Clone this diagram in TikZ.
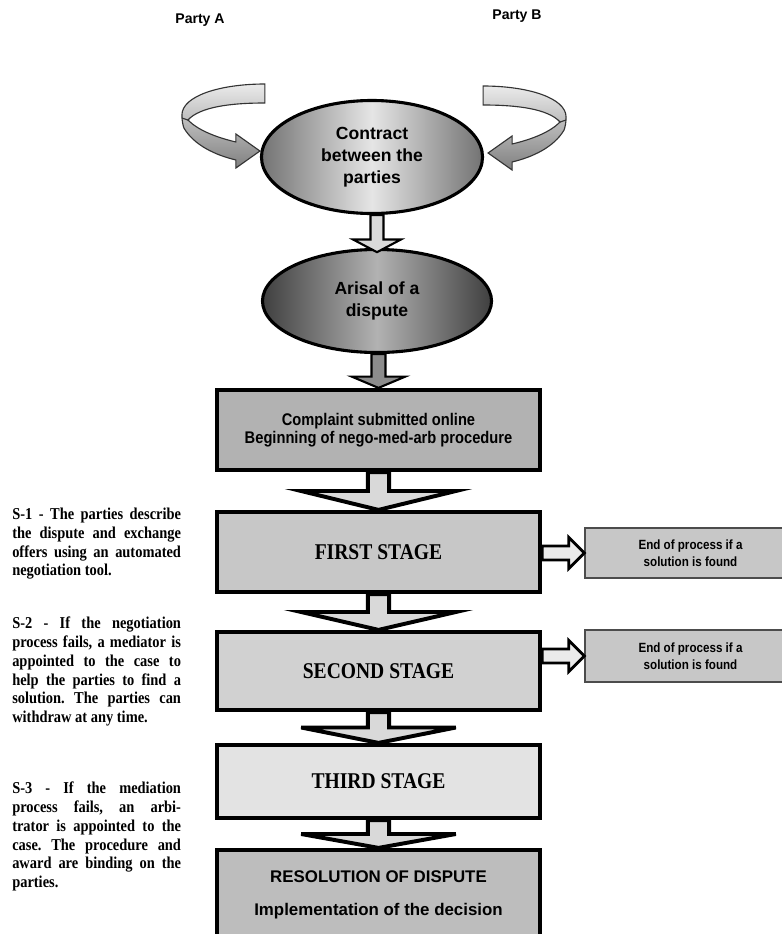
\documentclass[tikz,border=0pt]{standalone}
\usepackage{fontspec}
\setmainfont{Liberation Serif}
\newfontfamily\arialfont{Liberation Sans}
\newfontfamily\narrowsans{Liberation Sans}[FakeStretch=0.87]
\newfontfamily\narrowserif{Liberation Serif}[FakeStretch=0.87]
\usetikzlibrary{calc,shapes.geometric}

\tikzset{
  oval/.style = {ellipse, draw, line width=2.2pt, align=center, inner sep=0pt,
    font=\arialfont\bfseries\fontsize{12.5}{15.5}\selectfont},
  stagebox/.style = {rectangle, draw, line width=3pt, minimum width=8.075cm,
    align=center, inner sep=0pt},
  stagetext/.style = {font=\narrowserif\bfseries\fontsize{16}{18}\selectfont},
  endbox/.style = {rectangle, draw=black!70, line width=1pt, fill=black!22,
    minimum width=5.275cm, align=center,
    font=\narrowsans\bfseries\fontsize{9.5}{11.9}\selectfont},
  stepnote/.style = {anchor=north west, inner sep=0pt, text width=120pt,
    align=justify, font=\narrowserif\bfseries\fontsize{11.8}{13.3}\selectfont},
  partylabel/.style = {font=\arialfont\bfseries\fontsize{10}{12}\selectfont},
  blockarrow/.style = {draw, line width=2.8pt, fill=black!15, line join=miter},
  smallarrow/.style = {draw, line width=1.5pt, line join=miter},
  sidearrow/.style = {draw, line width=2pt, fill=black!8, line join=miter},
  ribbonline/.style = {draw=black!80, line width=0.8pt,
    top color=black!8, bottom color=black!50},
  ribbon/.pic = {
    \path[ribbonline] (5,-67) .. controls (-40,-67) and (-78,-55) .. (-78,-36)
      .. controls (-78,-30) and (-77,-26) .. (-76,-23)
      .. controls (-66,-6) and (-45,4) .. (-24,9) -- (-24,17) -- (0,0)
      -- (-24,-17) -- (-24,-9)
      .. controls (-45,-14) and (-62,-21) .. (-72,-31)
      .. controls (-60,-44) and (-30,-48) .. (5,-48) -- cycle;
    \draw[black!80, line width=0.8pt] (-72,-31) -- (-78,-33);
  }
}

\hyphenpenalty=10000
\frenchspacing

\begin{document}
\begin{tikzpicture}[x=0.025cm, y=-0.025cm]
  \useasboundingbox (0,0) rectangle (782,934);

  % parties and contract
  \node[partylabel] (partyA) at (200,20) {Party A};
  \node[partylabel] (partyB) at (517,16) {Party B};

  \node[oval, minimum width=5.525cm, minimum height=2.825cm,
    left color=black!55, right color=black!55, middle color=black!10]
    (contract) at (372,157) {Contract\\between the\\parties};
  \node[oval, minimum width=5.725cm, minimum height=2.575cm,
    left color=black!75, right color=black!75, middle color=black!30]
    (arisal) at (377,301) {Arisal of a\\dispute};

  \pic at ($(contract.west)+(0,-6)$) {ribbon};
  \pic[xscale=-1] at ($(contract.east)+(4,-4)$) {ribbon};

  % procedure
  \node[stagebox, fill=black!30, minimum height=2cm,
    font=\narrowsans\bfseries\fontsize{12}{13}\selectfont]
    (complaint) at (378.5,430) {Complaint submitted online\\Beginning of nego-med-arb procedure};
  \node[stagebox, stagetext, fill=black!22, minimum height=2cm]
    (first) at (378.5,552) {FIRST STAGE};
  \node[stagebox, stagetext, fill=black!18, minimum height=1.95cm]
    (second) at (378.5,671) {SECOND STAGE};
  \node[stagebox, stagetext, fill=black!11, minimum height=1.825cm]
    (third) at (378.5,781.5) {THIRD STAGE};
  \node[stagebox, fill=black!26, minimum height=2.25cm,
    font=\arialfont\bfseries\fontsize{12}{14.4}\selectfont]
    (resolution) at (378.5,895) {RESOLUTION OF DISPUTE\\[9pt]Implementation of the decision};

  \node[endbox, minimum height=1.25cm] (end1) at (690.5,553) {End of process if a\\solution is found};
  \node[endbox, minimum height=1.3cm] (end2) at (690.5,656) {End of process if a\\solution is found};

  % stage notes
  \node[stepnote] (note1) at (12,508) {S-1 - The parties describe\linebreak
    the dispute and exchange\linebreak offers using an automated\linebreak
    negotiation tool.};
  \node[stepnote] (note2) at (12,617) {S-2 - If the negotiation\linebreak
    process fails, a mediator is\linebreak appointed to the case to\linebreak
    help the parties to find a\linebreak solution. The parties can\linebreak
    withdraw at any time.};
  \node[stepnote] (note3) at (12,782) {S-3 - If the mediation\linebreak
    process fails, an arbi-\linebreak trator is appointed to the\linebreak
    case. The procedure and\linebreak award are binding on the\linebreak
    parties.};

  % arrows
  \draw[smallarrow, fill=black!15] let \p1=(contract.south), \p2=(arisal.north) in
    (\x2-4.6pt,\y1) -- (\x2-4.6pt,\y2+6pt) -- (\x2-17pt,\y2+6pt) -- (\x2,\y2-3pt)
    -- (\x2+17pt,\y2+6pt) -- (\x2+4.6pt,\y2+6pt) -- (\x2+4.6pt,\y1) -- cycle;
  \draw[smallarrow, fill=black!45] let \p1=(arisal.south), \p2=(complaint.north) in
    (\x2-5pt,\y1) -- (\x2-5pt,\y2+8pt) -- (\x2-19pt,\y2+8pt) -- (\x2,\y2)
    -- (\x2+19pt,\y2+8pt) -- (\x2+5pt,\y2+8pt) -- (\x2+5pt,\y1) -- cycle;

  \foreach \u/\l in {complaint/first, first/second, second/third, third/resolution}
    \draw[blockarrow] let \p1=(\u.south), \p2=(\l.north) in
      (\x1-7.5pt,\y1) -- (\x1-7.5pt,{(\y1+\y2)/2}) -- (\x1-55pt,{(\y1+\y2)/2})
      -- (\x1,\y2) -- (\x1+55pt,{(\y1+\y2)/2}) -- (\x1+7.5pt,{(\y1+\y2)/2})
      -- (\x1+7.5pt,\y1) -- cycle;

  \foreach \u/\l in {first/end1, second/end2}
    \draw[sidearrow] let \p1=(\u.east), \p2=(\l.west) in
      (\x1,\y2+5pt) -- (\x2-11pt,\y2+5pt) -- (\x2-11pt,\y2+11pt) -- (\x2,\y2)
      -- (\x2-11pt,\y2-11pt) -- (\x2-11pt,\y2-5pt) -- (\x1,\y2-5pt) -- cycle;
\end{tikzpicture}
\end{document}
